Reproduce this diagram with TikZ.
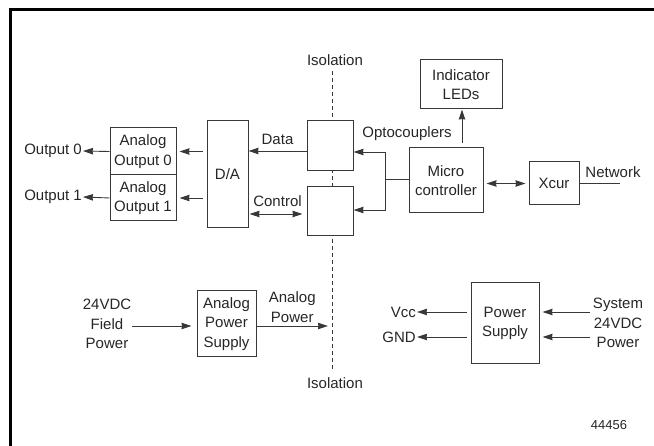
\documentclass[tikz,border=0pt]{standalone}
\usepackage{fontspec}
\setmainfont{Liberation Sans}
\usetikzlibrary{arrows.meta}
\definecolor{inkgray}{HTML}{262626}
\definecolor{linegray}{HTML}{383838}
\begin{document}
\begin{tikzpicture}[x=1pt,y=-1pt,
  every node/.style={font=\fontsize{15}{19.5}\selectfont,text=inkgray,inner sep=1pt},
  blk/.style={draw=linegray,line width=1pt,fill=white,align=center,inner sep=0pt},
  wire/.style={draw=linegray,line width=0.9pt},
  arr/.style={wire,-{Stealth[length=10pt,width=6.5pt,inset=0.5pt]}},
  darr/.style={wire,{Stealth[length=10pt,width=6.5pt,inset=0.5pt]}-{Stealth[length=10pt,width=6.5pt,inset=0.5pt]}}]
  \useasboundingbox (0,0) rectangle (654,446);
  \draw[line width=3pt] (10,446) -- (10,9.5) -- (654,9.5);
  % isolation barrier
  \node (isotop) at (335,60) {Isolation};
  \node (isobot) at (335,383) {Isolation};
  \coordinate (isoa) at (332,71);
  \coordinate (isob) at (332,371);
  \draw[linegray,line width=0.8pt,dash pattern=on 4pt off 3pt] (isoa) -- (isob);
  % blocks
  \node[blk,minimum width=66pt,minimum height=47pt] (ao0) at (143,151.5) {Analog\\Output 0};
  \node[blk,minimum width=66pt,minimum height=46pt] (ao1) at (143,198) {Analog\\Output 1};
  \node[blk,minimum width=41pt,minimum height=107pt] (da) at (227.5,174.5) {D/A};
  \node[blk,minimum width=46pt,minimum height=50pt] (iso1) at (330,146) {};
  \node[blk,minimum width=46pt,minimum height=49pt] (iso2) at (330,211.5) {};
  \node[blk,minimum width=82pt,minimum height=49pt] (leds) at (461,84.5) {Indicator\\LEDs};
  \node[blk,minimum width=74pt,minimum height=65pt] (micro) at (446,180.5) {Micro\\controller};
  \node[blk,minimum width=50pt,minimum height=43pt] (xcur) at (554,183.5) {Xcur};
  \node[blk,minimum width=59pt,minimum height=66pt] (aps) at (226.5,324) {Analog\\Power\\Supply};
  \node[blk,minimum width=68pt,minimum height=81pt] (ps) at (505,323.5) {Power\\Supply};
  % labels
  \node[anchor=east] (out0) at (83,151) {Output 0};
  \node[anchor=east] (out1) at (83,197) {Output 1};
  \node (opto) at (407,134) {Optocouplers};
  \node (network) at (613,172) {Network};
  \coordinate (net) at (620,183.5);
  \node[align=center] (field) at (107,324) {24VDC\\Field\\Power};
  \coordinate (apend) at (328,326);
  \node[anchor=east] (vcc) at (417,312) {Vcc};
  \node[anchor=east] (gnd) at (417,337) {GND};
  \node[align=center] (sys) at (618,323) {System\\24VDC\\Power};
  \node[font=\fontsize{13}{15}\selectfont] (code) at (609,425) {44456};
  % connections
  \draw[arr] (ao0.west) -- (out0.east);
  \draw[arr] (ao1.west) -- (out1.east);
  \draw[arr,shorten <=4pt,shorten >=3pt] (da.west |- ao0.east) -- (ao0.east);
  \draw[arr,shorten <=4pt,shorten >=3pt] (da.west |- ao1.east) -- (ao1.east);
  \draw[arr] ([yshift=-5pt]iso1.west) -- node[above=5pt] {Data} ([yshift=-5pt]iso1.west -| da.east);
  \draw[darr,shorten >=1pt,shorten <=4pt] ([yshift=-2.5pt]iso2.west) -- node[above=6pt] {Control} ([yshift=-2.5pt]iso2.west -| da.east);
  \coordinate (fork) at (385,179);
  \draw[wire] (micro.west |- fork) -- (fork);
  \draw[arr] (fork) |- ([yshift=-6pt]iso1.east);
  \draw[arr] (fork) |- ([yshift=1.5pt]iso2.east);
  \draw[arr,shorten <=4pt] ([xshift=16pt]micro.north) -- ([xshift=16pt]micro.north |- leds.south);
  \draw[darr,shorten <=3pt,shorten >=3pt] (micro.east |- xcur.west) -- (xcur.west);
  \draw[wire] (xcur.east) -- (net);
  \draw[arr,shorten >=5pt] (field.east |- apend) -- (aps.west |- apend);
  \draw[arr] (aps.east |- apend) -- node[above=2pt,align=center] {Analog\\Power} (apend);
  \draw[arr,shorten <=4pt] (ps.west |- vcc.east) -- (vcc.east);
  \draw[arr,shorten <=4pt] (ps.west |- gnd.east) -- (gnd.east);
  \draw[arr,shorten >=3pt] ([xshift=-2pt]sys.west |- vcc.east) -- (ps.east |- vcc.east);
  \draw[arr,shorten >=3pt] ([xshift=-2pt]sys.west |- gnd.east) -- (ps.east |- gnd.east);
\end{tikzpicture}
\end{document}
